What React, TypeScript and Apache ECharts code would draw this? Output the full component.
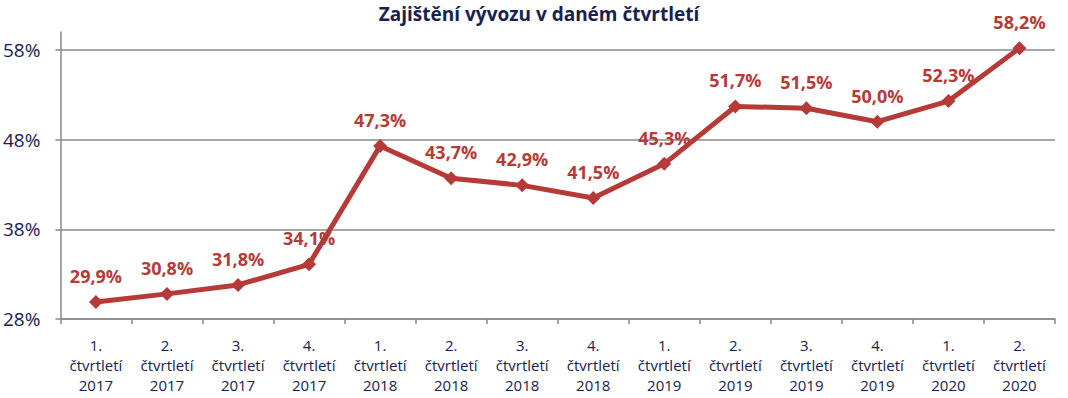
import React, { useEffect, useRef } from "react";
import * as echarts from "echarts";

const titleText = "Zajištění vývozu v daném čtvrtletí";
const quarters = ["1.", "2.", "3.", "4.", "1.", "2.", "3.", "4.", "1.", "2.", "3.", "4.", "1.", "2."];
const years = ["2017", "2017", "2017", "2017", "2018", "2018", "2018", "2018", "2019", "2019", "2019", "2019", "2020", "2020"];
const values = [29.9, 30.8, 31.8, 34.1, 47.3, 43.7, 42.9, 41.5, 45.3, 51.7, 51.5, 50.0, 52.3, 58.2];
const yTicks = [28, 38, 48, 58];

const categories = quarters.map((q, i) => `${q}\nčtvrtletí\n${years[i]}`);

export default function App() {
  const ref = useRef<HTMLDivElement>(null);
  useEffect(() => {
    if (!ref.current) return;
    const chart = echarts.init(ref.current, null, { renderer: "svg" });
    const navy = "#17224f";
    const red = "#b63a38";
    chart.setOption({
      animation: false,
      backgroundColor: "#ffffff",
      textStyle: { fontFamily: "Open Sans" },
      title: {
        text: titleText,
        left: 534,
        top: -1,
        textAlign: "center",
        textStyle: { fontFamily: "Open Sans", fontWeight: "bold", fontSize: 19, color: navy },
      },
      grid: { left: 60, right: 13, top: 32, bottom: 79, containLabel: false },
      xAxis: {
        type: "category",
        data: categories,
        boundaryGap: true,
        axisLine: { lineStyle: { color: "#8a8a8a", width: 1.5 } },
        axisTick: { show: true, length: 5, lineStyle: { color: "#8a8a8a", width: 1.5 } },
        axisLabel: {
          color: navy,
          fontFamily: "Open Sans",
          fontWeight: "normal",
          fontSize: 15,
          lineHeight: 20,
          margin: 16,
          interval: 0,
        },
        splitLine: { show: false },
      },
      yAxis: {
        type: "value",
        min: 28,
        max: 60,
        interval: 10,
        axisLine: { show: true, lineStyle: { color: "#8a8a8a", width: 1.5 } },
        axisTick: { show: true, length: 5, customValues: yTicks, lineStyle: { color: "#8a8a8a", width: 1.5 } },
        axisLabel: {
          customValues: yTicks,
          color: navy,
          fontFamily: "Open Sans",
          fontSize: 19,
          margin: 20,
          formatter: (v: number) => `${v}%`,
        },
        splitLine: { show: true, customValues: yTicks, lineStyle: { color: "#8a8a8a", width: 1.5 } },
      },
      series: [
        {
          type: "line",
          data: values,
          symbol: "diamond",
          symbolSize: 14,
          lineStyle: { color: red, width: 5 },
          itemStyle: { color: red },
          clip: false,
          label: {
            show: true,
            position: "top",
            distance: 10,
            color: red,
            fontFamily: "Open Sans",
            fontWeight: "bold",
            fontSize: 18,
            formatter: (p: any) => `${p.value.toFixed(1).replace(".", ",")}%`,
          },
        },
      ],
    });
    return () => chart.dispose();
  }, []);
  return (
    <div
      ref={ref}
      style={{ position: "fixed", left: 0, top: 0, width: 1068, height: 398 }}
    />
  );
}
